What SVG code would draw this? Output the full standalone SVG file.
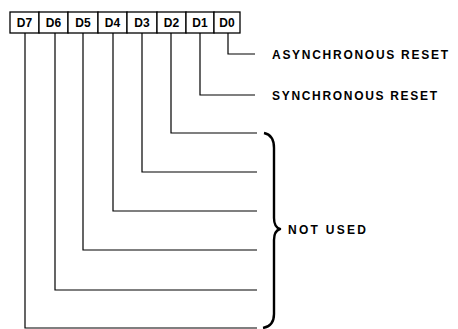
<svg xmlns="http://www.w3.org/2000/svg" width="458" height="329" viewBox="0 0 458 329">
<style>
.box{fill:#fff;stroke:#000;stroke-width:1.3}
.bl{font-family:"Liberation Sans",Arial,sans-serif;font-weight:bold;font-size:12px;fill:#000;text-anchor:middle}
.lbl{font-family:"Liberation Sans",Arial,sans-serif;font-weight:bold;font-size:12px;fill:#000}
.wire{fill:none;stroke:#000;stroke-width:1.2}
.brace{fill:none;stroke:#000;stroke-width:2.4;stroke-linejoin:round}
</style>
<rect width="458" height="329" fill="#fff"/>
<g id="register">
<g id="D7"><rect class="box" x="10" y="12" width="29" height="21"/><text class="bl" x="24.5" y="27">D7</text></g>
<g id="D6"><rect class="box" x="39" y="12" width="29" height="21"/><text class="bl" x="53.5" y="27">D6</text></g>
<g id="D5"><rect class="box" x="68" y="12" width="30" height="21"/><text class="bl" x="83" y="27">D5</text></g>
<g id="D4"><rect class="box" x="98" y="12" width="29" height="21"/><text class="bl" x="112.5" y="27">D4</text></g>
<g id="D3"><rect class="box" x="127" y="12" width="30" height="21"/><text class="bl" x="142" y="27">D3</text></g>
<g id="D2"><rect class="box" x="157" y="12" width="29" height="21"/><text class="bl" x="171.5" y="27">D2</text></g>
<g id="D1"><rect class="box" x="186" y="12" width="28" height="21"/><text class="bl" x="200" y="27">D1</text></g>
<g id="D0"><rect class="box" x="214" y="12" width="26" height="21"/><text class="bl" x="227" y="27">D0</text></g>
</g>
<g id="connectors">
<path class="wire" d="M228 33V54H255"/>
<path class="wire" d="M200 33V95H255"/>
<path class="wire" d="M171 33V133H257"/>
<path class="wire" d="M142 33V172H257"/>
<path class="wire" d="M113 33V211H257"/>
<path class="wire" d="M83 33V250H257"/>
<path class="wire" d="M55 33V290H257"/>
<path class="wire" d="M25 33V328H257"/>
</g>
<g id="labels">
<text class="lbl" x="272" y="58.5" textLength="176" lengthAdjust="spacing">ASYNCHRONOUS RESET</text>
<text class="lbl" x="272" y="100" textLength="165" lengthAdjust="spacing">SYNCHRONOUS RESET</text>
</g>
<g id="not-used">
<path class="brace" d="M264 133Q274 135 274 148V218Q274 227 280 229Q274 231 274 240V314Q274 326 263 328"/>
<text class="lbl" x="288" y="233.5" textLength="78" lengthAdjust="spacing">NOT USED</text>
</g>
</svg>
